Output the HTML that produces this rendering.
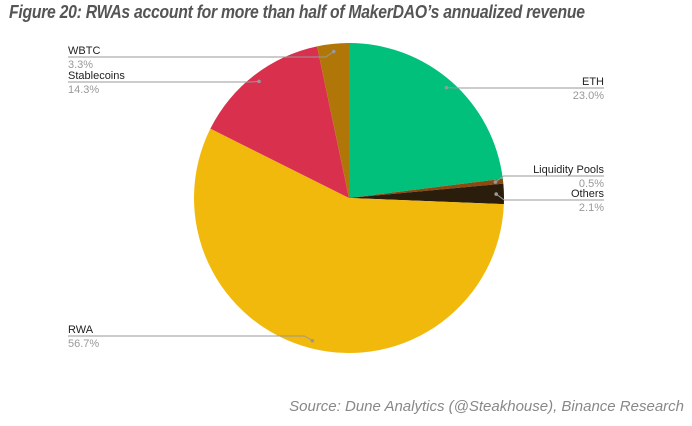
<!DOCTYPE html>
<html><head><meta charset="utf-8"><style>
body{margin:0;width:692px;height:426px;background:#fff;overflow:hidden;font-family:"Liberation Sans",sans-serif}
.t{position:absolute;left:9px;top:2px;font-size:18px;font-weight:bold;font-style:italic;color:#555;letter-spacing:-0.3px;white-space:nowrap;transform:scaleX(0.875);transform-origin:0 0}
.s{position:absolute;right:8px;top:398px;font-size:15px;font-style:italic;color:#888}
</style></head><body>
<div class="t">Figure 20: RWAs account for more than half of MakerDAO’s annualized revenue</div>
<svg id="c" width="692" height="426" style="position:absolute;left:0;top:0"></svg>
<div class="s">Source: Dune Analytics (@Steakhouse), Binance Research</div>
<script>
const labels=["ETH","Liquidity Pools","Others","RWA","Stablecoins","WBTC"];
const values=[23.0,0.5,2.1,56.7,14.3,3.3];
const colors=["#00c07b","#8a4a12","#2a1d0c","#f1b90c","#d9304e","#b07708"];
const svg=document.getElementById('c');const NS="http://www.w3.org/2000/svg";
const cx=349,cy=198,r=155;
const total=values.reduce((a,b)=>a+b,0);
function pt(a,rr){return [cx+rr*Math.sin(a),cy-rr*Math.cos(a)];}
function mk(t,at){const e=document.createElementNS(NS,t);for(const k in at)e.setAttribute(k,at[k]);svg.appendChild(e);return e;}
let a=0;const mids=[];
values.forEach((v,i)=>{const a2=a+v/total*2*Math.PI;const p1=pt(a,r),p2=pt(a2,r);
const p=mk('path',{d:`M${cx},${cy}L${p1[0]},${p1[1]}A${r},${r} 0 ${a2-a>Math.PI?1:0} 1 ${p2[0]},${p2[1]}Z`,fill:colors[i]});


mids.push((a+a2)/2);a=a2;});
const lay=[["R",88],["R",176],["R",200],["L",336],["L",82],["L",57]];
values.forEach((v,i)=>{
 const d=pt(mids[i],r*0.95);
 const side=lay[i][0],ly=lay[i][1];
 const x0=side=="R"?604:68;
 const xb=side=="R"?(d[0]+8):(d[0]-8);
 const l=mk('polyline',{points:`${d[0]},${d[1]} ${xb},${ly} ${x0},${ly}`,fill:'none',stroke:'#999','stroke-width':1});
 
 
 const c=mk('circle',{cx:d[0],cy:d[1],r:1.8,fill:'#999'});
 
 
 const anchor=side=="R"?'end':'start';
 const t1=mk('text',{x:x0,y:ly-3,'font-size':11,fill:'#222','text-anchor':anchor,'font-family':'Liberation Sans'});t1.textContent=labels[i];
 
 
 const t2=mk('text',{x:x0,y:ly+11,'font-size':11,fill:'#999','text-anchor':anchor,'font-family':'Liberation Sans'});t2.textContent=v.toFixed(1)+'%';
 
 
});
</script>
</body></html>
